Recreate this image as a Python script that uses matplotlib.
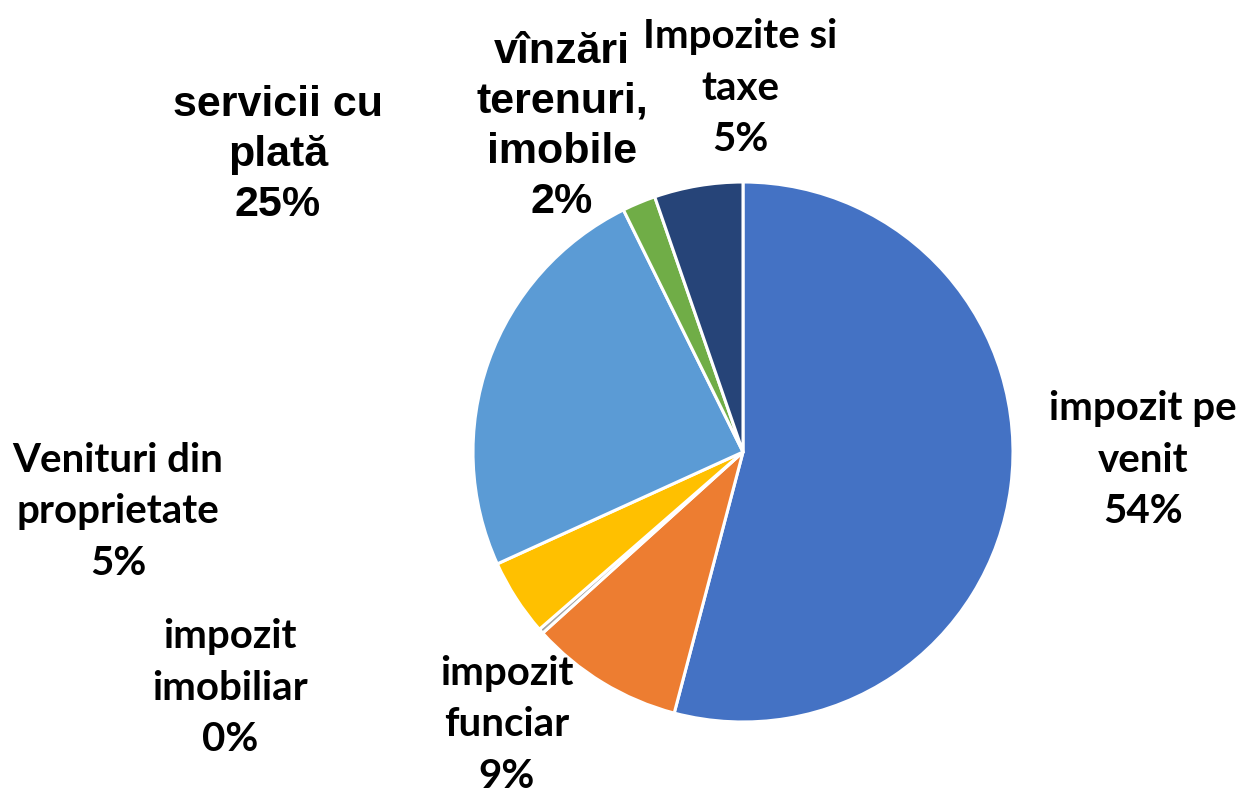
import matplotlib
matplotlib.use("Agg")
import matplotlib.pyplot as plt

categories = ["impozit pe\nvenit", "impozit\nfunciar", "impozit\nimobiliar",
              "Venituri din\nproprietate", "servicii cu\nplată",
              "vînzări\nterenuri,\nimobile", "Impozite si\ntaxe"]
values = [54.1, 9.2, 0.3, 4.6, 24.5, 2.0, 5.3]
pct_labels = ["54%", "9%", "0%", "5%", "25%", "2%", "5%"]
colors = ["#4472C4", "#ED7D31", "#A5A5A5", "#FFC000", "#5B9BD5", "#70AD47", "#264478"]

# label anchor positions (pixels) and font per label
label_pos = [(1143, 460), (507, 725), (230, 688), (118, 512), (278, 155), (562, 127), (740, 88)]
label_font = ["Lato", "Lato", "Lato", "Lato", "Liberation Sans", "Liberation Sans", "Lato"]

fig = plt.figure(figsize=(12.39, 7.93), dpi=100)
ax = fig.add_axes([0, 0, 1, 1])

# y axis is inverted below, so angles are mirrored: start at -90, counterclockwise in data
ax.pie(values, colors=colors, startangle=-90, counterclock=True,
       center=(743, 452), radius=270, frame=True,
       wedgeprops=dict(edgecolor="white", linewidth=2.2))
ax.set_xlim(0, 1239)
ax.set_ylim(793, 0)
ax.set_aspect("equal")
ax.axis("off")

for cat, pct, (x, y), fnt in zip(categories, pct_labels, label_pos, label_font):
    if fnt == "Lato":
        fs, ls = 29, 1.48
    else:
        fs, ls = 31, 1.33
    ax.text(x, y, cat + "\n" + pct, ha="center", va="center",
            fontsize=fs, fontweight="bold", family=[fnt, "DejaVu Sans"],
            linespacing=ls, color="black")

fig.savefig("out.png", dpi=100)
